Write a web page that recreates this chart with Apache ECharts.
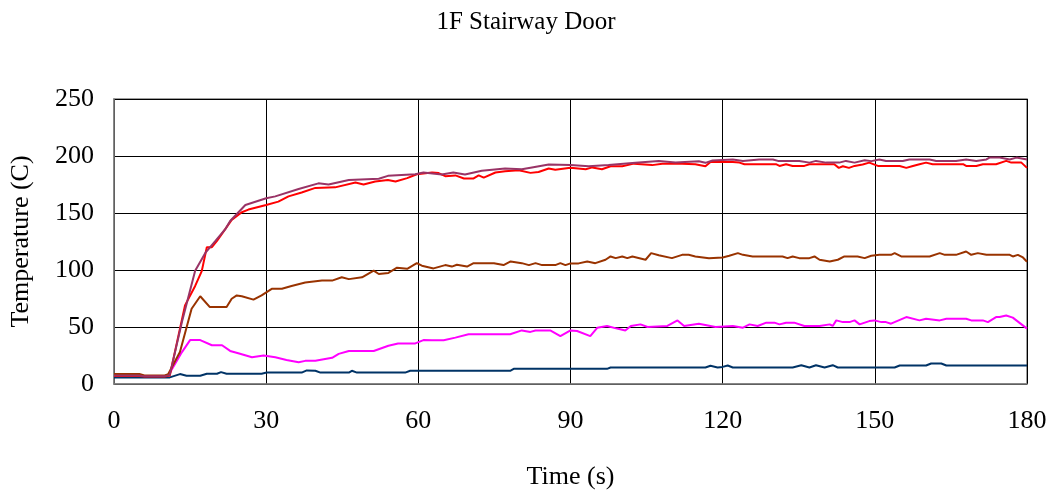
<!DOCTYPE html>
<html>
<head>
<meta charset="utf-8">
<script src="https://cdn.jsdelivr.net/npm/echarts@6/dist/echarts.min.js"></script>
<style>
html,body{margin:0;padding:0;background:#fff;}
#chart{width:1052px;height:495px;}
</style>
</head>
<body>
<div id="chart"></div>
<script>
const chartTitle = '1F Stairway Door';
const xTicks = [0, 30, 60, 90, 120, 150, 180];
const yTicks = [0, 50, 100, 150, 200, 250];

const purpleSeries = [[0,7.5],[5,7.5],[6,6.7],[10,6.7],[11,8],[13.4,54.5],[16,99.4],[18,115],[20,125.5],[21.9,135.6],[22.9,143],[25.9,157],[30,163],[31.8,164.6],[36.4,171],[40.3,176],[42.3,175],[46.3,179],[52.2,180],[54,182.6],[59.4,184],[61,185.5],[64.6,183.8],[66.9,185.5],[69.2,183.8],[72.5,187],[77.1,189],[80.4,188.4],[82.4,190],[85.7,192.5],[90,192],[93.6,191],[97.5,192],[102.8,194],[107.4,195.7],[110.7,194.2],[115.3,195.4],[116.6,194],[118,196],[122,197],[124,195.7],[127.2,197],[129.9,197],[130.9,195.7],[135.1,195.7],[137.1,194.2],[138.4,195.7],[140.4,194.2],[143,194.2],[144.3,195.7],[146,194.2],[148,196.2],[149.3,195.5],[150.9,197],[152.2,195.7],[155.5,195.7],[156.8,197],[160.8,197],[162.1,195.7],[166,195.7],[168,197],[170,195.7],[172,197],[172.6,198.6],[174.6,198.6],[176.6,197],[177.9,198.6],[180,197]];

const redSeries = [[0,7],[5,7],[6,6.5],[10,6.5],[11,7.5],[14,69],[16,86],[17.3,99],[18.3,120],[19.3,120],[20.3,125.5],[21.9,135.6],[23.2,144],[25.2,150.7],[26.5,153],[30,157],[32.4,160],[34.4,164.6],[37,168],[39.7,172],[43.6,172.5],[47.6,176.8],[49.2,175],[51.5,177.7],[54,179],[55.5,177.7],[57.8,180.6],[59.7,184],[62.7,185.5],[64,185],[65.3,182.3],[67.3,183],[69,180.3],[70.9,180.3],[71.9,183],[72.9,181],[75.2,185.5],[77.1,186.7],[79.8,187.5],[82.1,185.2],[83.7,186],[85.7,189],[87,188],[90,189.6],[93,188.4],[94.3,190],[96.2,188.4],[97.9,191],[100.2,191],[102.5,193.3],[106.1,192],[108.1,193.3],[112,193.3],[114.6,192.8],[116.6,191],[117.6,194.8],[122,194.8],[123.3,194.2],[124.3,192.8],[130.5,192.8],[131.2,191.3],[132.5,192.8],[133.8,191.3],[136.1,191.3],[137.1,192.8],[142,192.8],[142.9,189.6],[143.7,191],[144.9,189.6],[146,191.3],[147.6,192.5],[148.9,194.2],[150.6,191.3],[154.9,191.3],[156.2,189.6],[157.5,191.3],[158.8,192.8],[160.1,194.2],[161.4,192.8],[167.4,192.8],[168,191.3],[170,191.3],[171.3,192.8],[173.9,192.8],[175.9,195.7],[176.9,194.2],[178.9,194.2],[180,189.6]];

const brownSeries = [[0,8.7],[5,8.7],[6,7.5],[10,7.5],[10.7,8.7],[13,28],[15.3,66],[17,77],[18.9,67.5],[22.2,67.5],[23.2,74.8],[24.2,77.7],[25.2,77],[27.5,74],[29.1,77.7],[31.1,83.5],[33.1,83.5],[35,86],[37.7,89],[41,90.7],[43,90.7],[44.9,93.6],[46.3,92],[48.9,93.6],[51.2,99.4],[52.2,96.5],[54.1,97.4],[55.8,102],[57.8,101],[59.7,106],[60.7,103.8],[63,101.4],[65.3,104.3],[66.6,103],[67.6,104.6],[69.6,103],[70.9,106],[74.9,106],[76.8,104.3],[78.2,107.5],[80.4,106],[81.8,104.3],[83.1,106],[84.4,104.3],[87,104.3],[88,106],[89,104.3],[90,105.8],[91.6,105.8],[93.3,107.5],[94.9,106],[96.9,109],[97.9,111.9],[98.9,110.4],[100.2,111.9],[101.2,110.4],[102.2,111.9],[104.8,109],[105.9,114.8],[107.4,113],[110,110.4],[112,113.3],[113.3,113.3],[114.6,111.9],[117.3,110.4],[120,111],[121.3,112.5],[123,114.8],[124,113.3],[125.9,111.9],[131.8,111.9],[132.8,110.4],[133.8,111.9],[135.1,110.4],[137.1,110.4],[138.1,111.9],[139.1,109],[141.1,107.5],[142.7,109],[144,111.9],[146.6,111.9],[148,110.4],[149.3,112.5],[150.9,113.3],[153.2,113.3],[153.9,114.8],[155.2,111.9],[160.8,111.9],[162.8,114.8],[163.8,113.3],[166,113.3],[168,116.2],[169,113.3],[170.3,114.8],[172,113.3],[176.6,113.3],[177.2,111.9],[178.2,113.3],[179.2,111],[180,107.2]];

const magentaSeries = [[0,7],[10,7],[10.7,7.5],[13.4,28],[15,38.5],[17,38.5],[19.3,34],[21.3,34],[22.9,29],[24.5,27],[27.2,23.5],[29.5,25],[31.8,23.5],[34,21],[36.4,19],[37.7,20.3],[39.7,20.3],[43,23],[44.3,26.4],[46.3,29],[51.2,29],[54.1,33.6],[56,35.6],[59.4,35.6],[61,38.5],[62.7,38.4],[65,38.4],[67.3,40.7],[69.9,43.6],[78.1,43.6],[80.4,47],[82.1,45.7],[83.1,47],[86,47],[88,42],[90,47],[91.3,46.5],[93.9,42],[95.3,49.4],[97.2,50.9],[99.2,48.6],[100.8,47],[101.9,50.9],[103.8,52.3],[105.2,50],[109.1,50.9],[111.1,55.8],[112.4,50.9],[115.3,52.9],[118.6,50],[122,50.9],[124,49.4],[125.3,52.3],[126.9,50.9],[128.6,53.8],[130.2,53.8],[131.2,52.3],[132.5,53.8],[134.1,53.8],[136.1,50.9],[139.1,50.9],[141.1,52.3],[141.7,50.9],[142.4,55.8],[143.7,54.3],[145,54.3],[146,55.8],[147,52.3],[148.9,55.2],[149.9,55.8],[151.3,54.3],[152.2,54.3],[153.2,52.9],[156.2,58.7],[158.8,55.8],[160.1,57.2],[162.8,55.8],[164.1,57.2],[168,57.2],[169,55.8],[171.3,55.8],[172.3,54.3],[173.9,58.7],[174.6,58.7],[175.9,60.1],[177.2,58.2],[180,48.6]];

const navySeries = [[0,5.8],[11,5.8],[13,8.7],[14.3,7.2],[17,7.2],[18.3,9],[20.3,9],[21.1,10.4],[22.2,9],[29.1,9],[30.1,10],[37,10],[38,11.9],[39.7,11.6],[40.7,10],[46.3,10],[46.9,11.6],[47.9,10],[57.4,10],[58.4,11.6],[78.1,11.6],[78.8,13.3],[97.2,13.3],[97.9,14.5],[116.6,14.5],[117.6,16],[119,14.5],[120,15],[121,16.2],[122,14.5],[133.8,14.5],[135.5,16.5],[137.1,14.5],[138.4,16.5],[140.1,14.5],[141.7,16.5],[142.7,14.5],[153.9,14.5],[154.9,16.2],[160.1,16.2],[161.1,18],[163.1,18],[164.1,16.2],[180,16.2]];

const seriesList = [
  {name: 'Navy', data: navySeries, color: '#003366'},
  {name: 'Magenta', data: magentaSeries, color: '#FF00FF'},
  {name: 'Brown', data: brownSeries, color: '#993300'},
  {name: 'Red', data: redSeries, color: '#FF0000'},
  {name: 'Purple', data: purpleSeries, color: '#993366'}
];

const font = 'Liberation Serif, Times New Roman, serif';
const chart = echarts.init(document.getElementById('chart'), null, {renderer: 'canvas'});
chart.setOption({
  backgroundColor: '#ffffff',
  animation: false,
  title: {
    text: chartTitle,
    left: 'center',
    top: 5,
    textStyle: {fontFamily: font, fontSize: 25, fontWeight: 'normal', color: '#000'}
  },
  grid: {
    left: 113, right: 25, top: 99, bottom: 109,
    show: true, borderColor: '#808080', borderWidth: 1.5, backgroundColor: '#fff'
  },
  xAxis: {
    type: 'value',
    min: xTicks[0], max: xTicks[xTicks.length - 1], interval: 30,
    name: 'Time (s)', nameLocation: 'middle', nameGap: 80,
    nameTextStyle: {fontFamily: font, fontSize: 26, color: '#000'},
    axisLine: {show: true, lineStyle: {color: '#808080', width: 1.5}},
    axisTick: {show: false},
    axisLabel: {fontFamily: font, fontSize: 26, color: '#000', margin: 24},
    splitLine: {show: true, lineStyle: {color: '#000', width: 1}}
  },
  yAxis: {
    type: 'value',
    min: yTicks[0], max: yTicks[yTicks.length - 1], interval: 50,
    name: 'Temperature (C)', nameLocation: 'middle', nameGap: 80,
    nameTextStyle: {fontFamily: font, fontSize: 26, color: '#000'},
    axisLine: {show: true, lineStyle: {color: '#808080', width: 1.5}},
    axisTick: {show: false},
    axisLabel: {fontFamily: font, fontSize: 26, color: '#000', margin: 20},
    splitLine: {show: true, lineStyle: {color: '#000', width: 1}}
  },
  series: seriesList.map(s => ({
    name: s.name,
    type: 'line',
    data: s.data,
    showSymbol: false,
    symbol: 'none',
    lineStyle: {color: s.color, width: 2},
    itemStyle: {color: s.color},
    z: 3
  }))
});
</script>
</body>
</html>
